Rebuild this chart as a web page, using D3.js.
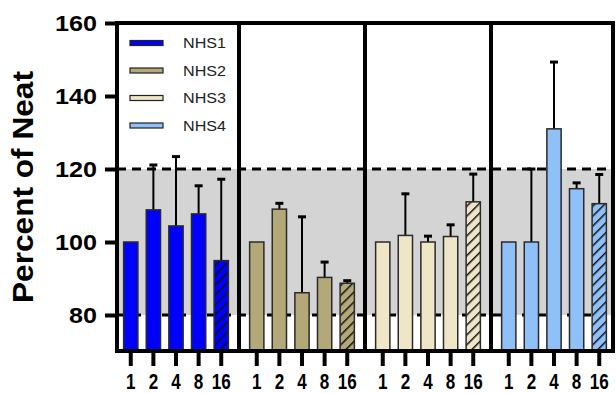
<!DOCTYPE html>
<html><head><meta charset="utf-8">
<script src="https://cdn.jsdelivr.net/npm/d3@7"></script>
<style>body{margin:0;background:#fff}svg{display:block}</style>
</head><body>
<svg id="c" width="616" height="393"></svg>
<script>
const series = ["NHS1","NHS2","NHS3","NHS4"];
const dilutions = ["1","2","4","8","16"];
const colors = ["#0000ff","#b3a878","#efe6c8","#90c0f8"];
const means = [
  [100, 108.8, 104.4, 107.7, 94.9],
  [100, 109.0, 86.1, 90.3, 88.7],
  [100, 101.8, 100, 101.5, 111.0],
  [100, 100, 131.0, 114.6, 110.5]
];
const errTops = [
  [100, 121.1, 123.4, 115.4, 117.2],
  [100, 110.6, 106.9, 94.5, 89.4],
  [100, 113.2, 101.6, 104.7, 118.6],
  [100, 120.0, 149.3, 116.2, 118.5]
];
const yTicks = [80, 100, 120, 140, 160];
const band = [80, 120];

const FONT = "Liberation Sans, Arial, Helvetica, sans-serif";
const svg = d3.select("#c");
const L = 117, R = 613, T = 23, B = 351;
const y = d3.scaleLinear().domain([70,160]).range([351.5, 23]);
const xp = d3.scaleBand().domain(series).range([113, 617]);
const xi = d3.scaleBand().domain(dilutions).range([0, xp.bandwidth()]).paddingInner(0.37).paddingOuter(0.47);

const defs = svg.append("defs");
series.forEach((s,i)=>{
  const p = defs.append("pattern").attr("id","h"+i).attr("patternUnits","userSpaceOnUse")
    .attr("width",7).attr("height",7).attr("patternTransform","rotate(45)");
  p.append("rect").attr("width",7).attr("height",7).attr("fill",colors[i]);
  p.append("line").attr("x1",0).attr("y1",0).attr("x2",0).attr("y2",7).attr("stroke","#111").attr("stroke-width",3);
});

// grey band
svg.append("rect").attr("x",L).attr("width",R-L).attr("y",y(band[1])).attr("height",y(band[0])-y(band[1])).attr("fill","#d4d4d4");
// dashed lines
band.forEach(v=>{
  svg.append("line").attr("x1",L).attr("x2",R).attr("y1",y(v)).attr("y2",y(v))
    .attr("stroke","#000").attr("stroke-width",3).attr("stroke-dasharray","9,6");
});

// error bars + bars
series.forEach((s,i)=>{
  const g = svg.append("g").attr("transform",`translate(${xp(s)},0)`);
  dilutions.forEach((d,j)=>{
    const cx = xi(d)+xi.bandwidth()/2;
    if (errTops[i][j] > means[i][j]) {
      g.append("line").attr("x1",cx).attr("x2",cx).attr("y1",y(means[i][j])).attr("y2",y(errTops[i][j])).attr("stroke","#000").attr("stroke-width",2);
      g.append("line").attr("x1",cx-4).attr("x2",cx+4).attr("y1",y(errTops[i][j])).attr("y2",y(errTops[i][j])).attr("stroke","#000").attr("stroke-width",3);
    }
    g.append("rect").attr("x",xi(d)).attr("width",xi.bandwidth())
      .attr("y",y(means[i][j])).attr("height",B-y(means[i][j]))
      .attr("fill", d==="16" ? `url(#h${i})` : colors[i])
      .attr("stroke","#2a2a2a").attr("stroke-width",1.5);
  });
});

// frame: top + dividers + right
svg.append("line").attr("x1",L).attr("x2",R+2).attr("y1",T).attr("y2",T).attr("stroke","#000").attr("stroke-width",4);
series.slice(1).forEach(s=>{
  svg.append("line").attr("x1",xp(s)).attr("x2",xp(s)).attr("y1",T).attr("y2",B).attr("stroke","#000").attr("stroke-width",4);
});
svg.append("line").attr("x1",R).attr("x2",R).attr("y1",T).attr("y2",B).attr("stroke","#000").attr("stroke-width",4);

// y axis
const ya = svg.append("g").attr("transform",`translate(${L},0)`)
  .call(d3.axisLeft(y).tickValues(yTicks).tickSize(12).tickPadding(8));
ya.select(".domain").attr("d",`M0,${T-2}V${B+2}`).attr("stroke","#000").attr("stroke-width",4);
ya.selectAll(".tick line").attr("stroke","#000").attr("stroke-width",4);
ya.selectAll(".tick text").attr("font-family",FONT).attr("font-weight","bold").attr("font-size",22)
  .attr("fill","#000").attr("dy","0.36em")
  .attr("textLength",d=>String(d).length*14).attr("lengthAdjust","spacingAndGlyphs");

// x axes
svg.append("line").attr("x1",L-2).attr("x2",R+2).attr("y1",B).attr("y2",B).attr("stroke","#000").attr("stroke-width",4);
series.forEach(s=>{
  const xa = svg.append("g").attr("transform",`translate(${xp(s)},${B})`)
    .call(d3.axisBottom(xi).tickSize(15).tickPadding(7));
  xa.select(".domain").remove();
  xa.selectAll(".tick line").attr("stroke","#000").attr("stroke-width",4);
  xa.selectAll(".tick text").attr("font-family",FONT).attr("font-weight","bold").attr("font-size",22).attr("fill","#000")
    .attr("textLength",d=>d.length*9.5).attr("lengthAdjust","spacingAndGlyphs");
});

// y label
svg.append("text").attr("transform",`translate(33,${(T+B)/2}) rotate(-90)`).attr("text-anchor","middle")
  .attr("font-family",FONT).attr("font-weight","bold").attr("font-size",30)
  .attr("textLength",232).attr("lengthAdjust","spacingAndGlyphs").text("Percent of Neat");

// legend
const lg = svg.append("g");
series.forEach((s,i)=>{
  const ly = 43 + i*27.5;
  lg.append("rect").attr("x",130).attr("y",ly-2.5).attr("width",33).attr("height",5).attr("fill",colors[i]).attr("stroke","#222").attr("stroke-width",1.2);
  lg.append("text").attr("x",183).attr("y",ly).attr("dy","0.36em").attr("font-family",FONT).attr("font-size",15).attr("fill","#222")
    .attr("textLength",43).attr("lengthAdjust","spacingAndGlyphs").text(s);
});
</script>
</body></html>
